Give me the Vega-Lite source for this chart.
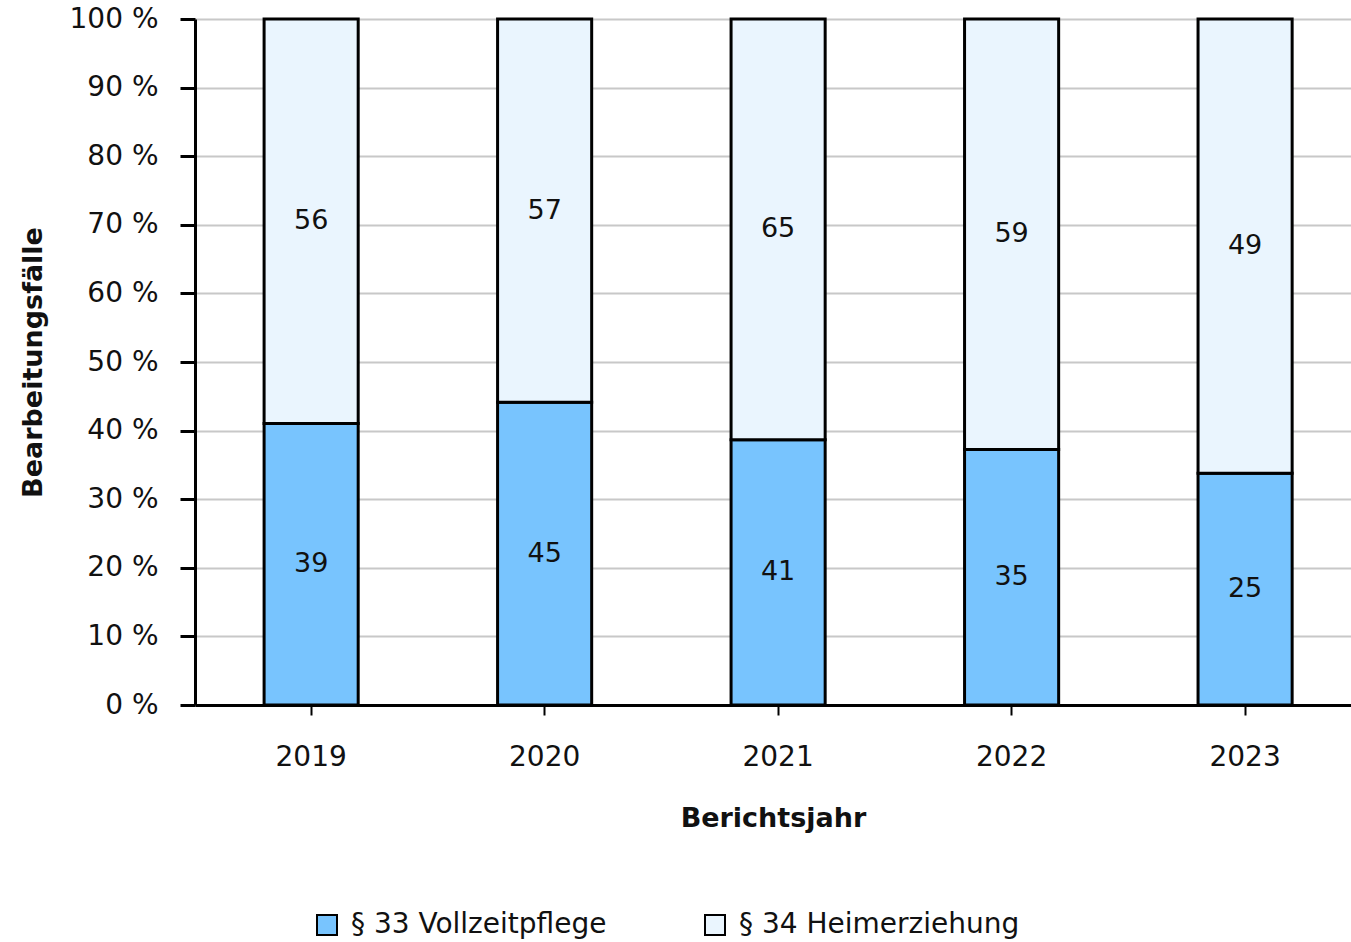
{
  "$schema": "https://vega.github.io/schema/vega-lite/v6.json",
  "autosize": {"type": "none"},
  "padding": {"left": 195, "top": 19, "right": 0, "bottom": 237},
  "width": 1156,
  "height": 686,
  "background": "white",
  "config": {
    "font": "DejaVu Sans",
    "view": {"stroke": null}
  },
  "data": {
    "values": [
      {"jahr": "2019", "art": "§ 33 Vollzeitpflege", "faelle": 39},
      {"jahr": "2019", "art": "§ 34 Heimerziehung", "faelle": 56},
      {"jahr": "2020", "art": "§ 33 Vollzeitpflege", "faelle": 45},
      {"jahr": "2020", "art": "§ 34 Heimerziehung", "faelle": 57},
      {"jahr": "2021", "art": "§ 33 Vollzeitpflege", "faelle": 41},
      {"jahr": "2021", "art": "§ 34 Heimerziehung", "faelle": 65},
      {"jahr": "2022", "art": "§ 33 Vollzeitpflege", "faelle": 35},
      {"jahr": "2022", "art": "§ 34 Heimerziehung", "faelle": 59},
      {"jahr": "2023", "art": "§ 33 Vollzeitpflege", "faelle": 25},
      {"jahr": "2023", "art": "§ 34 Heimerziehung", "faelle": 49}
    ]
  },
  "transform": [
    {"stack": "faelle", "groupby": ["jahr"], "sort": [{"field": "art", "order": "ascending"}], "offset": "normalize", "as": ["y0", "y1"]},
    {"calculate": "(datum.y0 + datum.y1) / 2", "as": "ymid"}
  ],
  "encoding": {
    "x": {
      "field": "jahr",
      "type": "nominal",
      "scale": {"paddingInner": 0.597, "paddingOuter": 0.274, "align": 0.54},
      "axis": {
        "title": "Berichtsjahr",
        "labelAngle": 0,
        "labelFontSize": 28,
        "labelColor": "#111",
        "labelPadding": 28,
        "titleFontSize": 27,
        "titleFontWeight": "bold",
        "titleColor": "#111",
        "titlePadding": 34,
        "domainColor": "#000",
        "domainWidth": 3,
        "tickColor": "#000",
        "tickWidth": 2,
        "tickSize": 10,
        "grid": false
      }
    }
  },
  "layer": [
    {
      "mark": {"type": "bar", "stroke": "#000", "strokeWidth": 3, "opacity": 1},
      "encoding": {
        "y": {
          "field": "y0",
          "type": "quantitative",
          "scale": {"domain": [0, 1]},
          "axis": {
            "title": "Bearbeitungsfälle",
            "values": [0, 0.1, 0.2, 0.3, 0.4, 0.5, 0.6, 0.7, 0.8, 0.9, 1],
            "labelExpr": "round(datum.value * 100) + ' %'",
            "labelFontSize": 28,
            "labelColor": "#111",
            "labelPadding": 22,
            "titleFontSize": 27,
            "titleFontWeight": "bold",
            "titleColor": "#111",
            "titlePadding": 22,
            "domainColor": "#000",
            "domainWidth": 3,
            "tickColor": "#000",
            "tickWidth": 3,
            "tickSize": 15,
            "gridColor": "#c8c8c8",
            "gridWidth": 2
          }
        },
        "y2": {"field": "y1"},
        "color": {
          "field": "art",
          "type": "nominal",
          "scale": {"range": ["#78c4fe", "#eaf5fe"]},
          "legend": {
            "title": null,
            "orient": "none",
            "legendX": 118,
            "legendY": 892,
            "direction": "horizontal",
            "columns": 2,
            "symbolType": "square",
            "symbolSize": 400,
            "symbolStrokeColor": "#000",
            "symbolStrokeWidth": 2,
            "symbolOpacity": 1,
            "labelFontSize": 28,
            "labelColor": "#111",
            "labelOffset": 10,
            "labelLimit": 0,
            "columnPadding": 94
          }
        }
      }
    },
    {
      "mark": {"type": "text", "fontSize": 27, "color": "#111"},
      "encoding": {
        "y": {"field": "ymid", "type": "quantitative"},
        "text": {"field": "faelle", "type": "quantitative"}
      }
    }
  ]
}
